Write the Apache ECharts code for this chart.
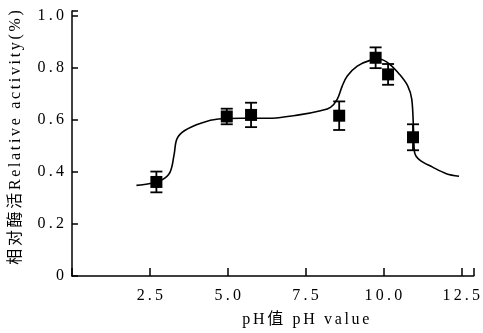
<!DOCTYPE html>
<html><head><meta charset="utf-8">
<script src="https://cdn.jsdelivr.net/npm/echarts@6/dist/echarts.min.js"></script>
<style>html,body{margin:0;padding:0;background:#fff}#c{width:483px;height:333px}</style>
</head><body><div id="c"></div>
<script>
const xTicks = [2.5, 5.0, 7.5, 10.0, 12.5];
const yTicks = [0, 0.2, 0.4, 0.6, 0.8, 1.0];
const xTitle = 'pH值 pH value';
const yTitle = '相对酶活Relative activity(%)';
const pointX = [2.71, 4.97, 5.75, 8.58, 9.75, 10.15, 10.95];
const pointY = [0.362, 0.614, 0.620, 0.617, 0.840, 0.776, 0.534];
const pointErr = [0.040, 0.030, 0.047, 0.055, 0.040, 0.040, 0.050];
const curveX = [2.07, 2.51, 2.89, 3.15, 3.28, 3.37, 3.62, 4.16, 4.70, 5.44, 6.29, 7.34, 7.98, 8.30, 8.52, 8.68, 8.84, 9.16, 9.57, 9.89, 10.2, 10.52, 10.78, 10.91, 10.97, 11.0, 11.16, 11.58, 12.02, 12.43];
const curveY = [0.349, 0.356, 0.37, 0.40, 0.468, 0.528, 0.56, 0.589, 0.604, 0.607, 0.607, 0.621, 0.636, 0.649, 0.681, 0.732, 0.770, 0.808, 0.830, 0.834, 0.815, 0.776, 0.732, 0.681, 0.554, 0.477, 0.447, 0.419, 0.394, 0.384];

const serif = '"Liberation Serif","Noto Sans CJK SC",serif';
const spaced = (s, sp) => Array.from(s).join(sp);
const THIN = '\u2009', SIX = '\u2006';
const chart = echarts.init(document.getElementById('c'), null, {renderer:'canvas'});
chart.setOption({
  animation: false,
  grid: {left: 70, right: 8, top: 11, bottom: 55, containLabel: false},
  xAxis: {
    type: 'value', min: 0, max: 12.9, interval: 2.5,
    name: spaced(xTitle, SIX), nameLocation: 'middle', nameGap: 36,
    nameTextStyle: {fontFamily: serif, fontSize: 16, color: '#000', padding: [0, 0, 0, 66]},
    axisLine: {show: true, lineStyle: {color: '#000', width: 1.5}},
    axisTick: {show: true, inside: true, length: 8, lineStyle: {color: '#000', width: 1.5}},
    axisLabel: {fontFamily: serif, fontSize: 16, color: '#000', margin: 12,
      formatter: v => xTicks.includes(v) ? spaced(v.toFixed(1), THIN) : ''},
    splitLine: {show: false}
  },
  yAxis: {
    type: 'value', min: 0, max: 1.02, interval: 0.2,
    name: spaced(yTitle, SIX), nameLocation: 'middle', nameGap: 48,
    nameTextStyle: {fontFamily: serif, fontSize: 16, color: '#000', padding: [0, 0, 0, 12]},
    axisLine: {show: true, lineStyle: {color: '#000', width: 1.5}},
    axisTick: {show: true, inside: true, length: 6, lineStyle: {color: '#000', width: 1.5}},
    axisLabel: {fontFamily: serif, fontSize: 16, color: '#000', margin: 8,
      formatter: v => { const t = yTicks.find(y => Math.abs(y - v) < 1e-6); return t === undefined ? '' : (t === 0 ? '0' : spaced(t.toFixed(1), THIN)); }},
    splitLine: {show: false}
  },
  series: [
    {
      type: 'line', data: curveX.map((x, i) => [x, curveY[i]]), smooth: 0.35,
      showSymbol: false, lineStyle: {color: '#000', width: 1.6}, z: 2
    },
    {
      type: 'custom', z: 3,
      data: pointX.map((x, i) => [x, pointY[i], pointErr[i]]),
      renderItem: (params, api) => {
        const x = api.value(0), y = api.value(1), e = api.value(2);
        const top = api.coord([x, y + e]), bot = api.coord([x, y - e]);
        const hw = 6;
        const st = {stroke: '#000', lineWidth: 1.8};
        return {type: 'group', children: [
          {type: 'line', shape: {x1: top[0], y1: top[1], x2: bot[0], y2: bot[1]}, style: st},
          {type: 'line', shape: {x1: top[0]-hw, y1: top[1], x2: top[0]+hw, y2: top[1]}, style: st},
          {type: 'line', shape: {x1: bot[0]-hw, y1: bot[1], x2: bot[0]+hw, y2: bot[1]}, style: st}
        ]};
      }
    },
    {
      type: 'scatter', data: pointX.map((x, i) => [x, pointY[i]]),
      symbol: 'rect', symbolSize: 12, itemStyle: {color: '#000', opacity: 1}, z: 4
    }
  ]
});
</script></body></html>
